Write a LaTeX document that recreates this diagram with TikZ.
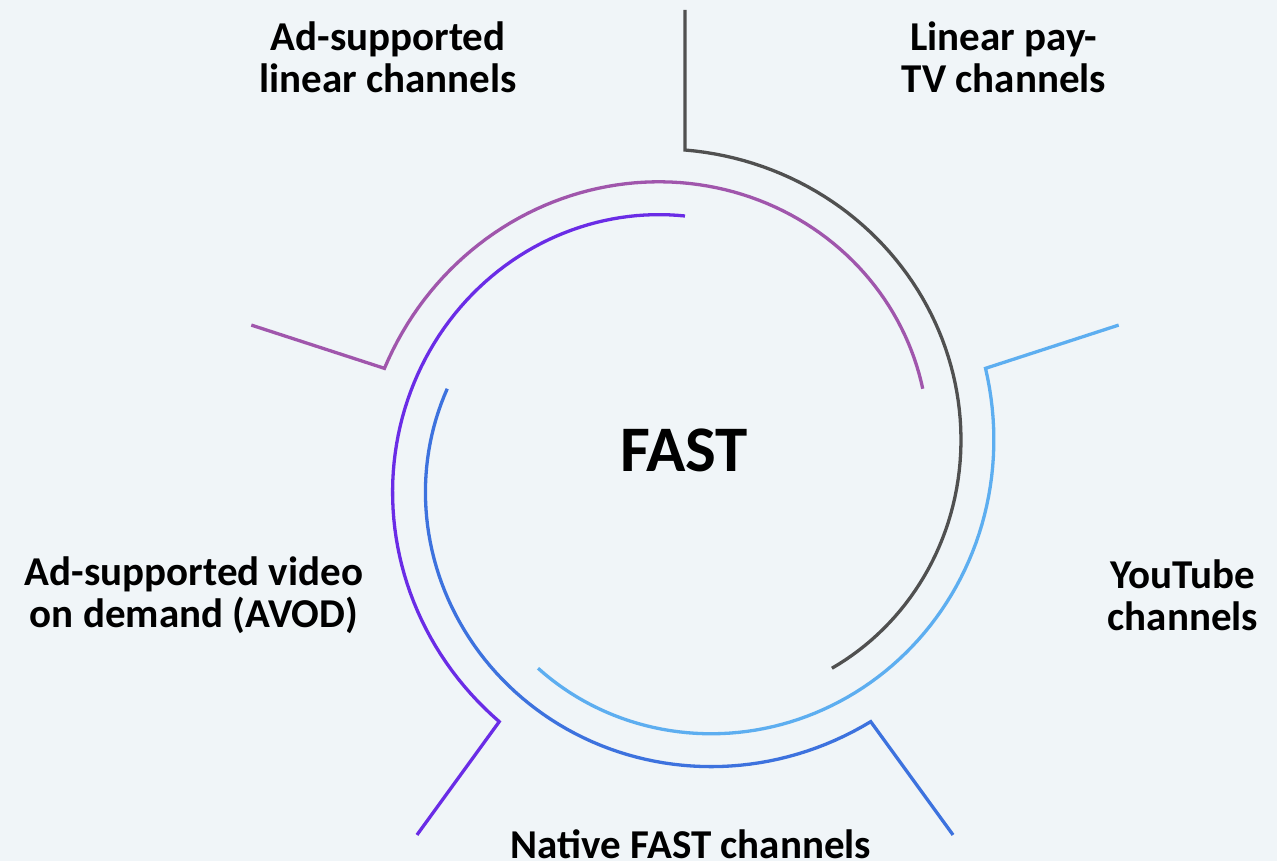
\documentclass[tikz,border=0pt]{standalone}
\usepackage{fontspec}
\setmainfont{Carlito}
\usepackage{tikz}
\definecolor{fastBg}{HTML}{F0F5F8}
\definecolor{fastGray}{HTML}{505050}
\definecolor{fastLight}{HTML}{5DAEF0}
\definecolor{fastBlue}{HTML}{3D72DE}
\definecolor{fastViolet}{HTML}{6A2CE6}
\definecolor{fastPurple}{HTML}{A056AC}
\tikzset{
    spiral/.style={line width=3.3pt, miter limit=10},
    lbl/.style={font=\bfseries\fontsize{41}{42}\selectfont, align=center, inner sep=0pt}
}
\begin{document}
\begin{tikzpicture}[x=1pt, y=1pt]
% canvas, origin at the ring centre
\fill[fastBg] (-685,-395) rectangle (592,466);
\useasboundingbox (-685,-395) rectangle (592,466);

% five spirals, each starts with a radial tick
\foreach \a/\col/\nm in {90/fastGray/gray, 18/fastLight/light, -54/fastBlue/blue, -126/fastViolet/violet, 162/fastPurple/purple} {
    \coordinate (tick-\nm) at (\a:456);
    \draw[spiral, draw=\col] (tick-\nm) -- plot[domain=0:144, samples=80] ({\a-\x}:{316-66*\x/144});
}

\node[font=\bfseries\fontsize{65}{78}\selectfont] (fast) at (-1,16) {FAST};
\node[lbl] (adlin) at (-297,409) {Ad-supported\\linear channels};
\node[lbl] (paytv) at (319,409) {Linear pay-\\TV channels};
\node[lbl] (youtube) at (498,-129) {YouTube\\channels};
\node[lbl] (native) at (6,-378) {Native FAST channels};
\node[lbl] (avod) at (-491,-129) {Ad-supported video\\on demand (AVOD)};
\end{tikzpicture}
\end{document}
